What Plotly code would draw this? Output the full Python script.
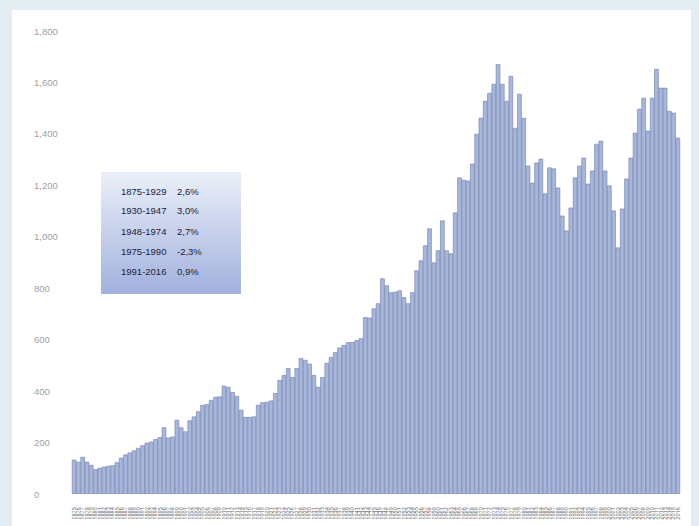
import plotly.graph_objects as go

# ---- data ----
years = list(range(1875, 2017))
values = [
    132, 124, 143, 124, 112, 95, 100, 105, 108, 110,
    122, 140, 152, 160, 168, 178, 188, 198, 202, 212,
    220, 258, 218, 222, 287, 258, 242, 285, 300, 320,
    345, 348, 364, 376, 378, 420, 415, 395, 380, 326,
    298, 298, 300, 345, 355, 357, 362, 391, 442, 461,
    488, 453, 488, 527, 520, 505, 461, 415, 453, 508,
    531, 550, 568, 578, 589, 589, 597, 604, 686, 684,
    720, 740, 837, 810, 783, 785, 790, 764, 740, 783,
    868, 907, 965, 1031, 899, 946, 1062, 946, 934, 1093,
    1229, 1220, 1217, 1283, 1399, 1461, 1527, 1558, 1593, 1670,
    1593, 1527, 1624, 1422, 1554, 1461, 1275, 1209, 1287, 1302,
    1167, 1268, 1264, 1190, 1081, 1023, 1112, 1229, 1275, 1306,
    1205, 1256, 1360, 1372, 1256, 1198, 1101, 957, 1108, 1225,
    1306, 1403, 1496, 1539, 1411, 1539, 1651, 1578, 1578, 1488,
    1481, 1384,
]
y_ticks = [0, 200, 400, 600, 800, 1000, 1200, 1400, 1600, 1800]
periods = ["1875-1929", "1930-1947", "1948-1974", "1975-1990", "1991-2016"]
rates = ["2,6%", "3,0%", "2,7%", "-2,3%", "0,9%"]

W, H = 699, 526
ML, MR, MT, MB = 68, 15, 31, 32
PW = W - ML - MR
PH = H - MT - MB


def px_x(p):
    return (p - ML) / PW


def px_y(p):
    return (H - MB - p) / PH


fig = go.Figure()
fig.add_trace(go.Bar(
    x=years, y=values,
    marker=dict(color="#a7b6da", line=dict(color="#7080aa", width=0.6)),
    hoverinfo="x+y",
))

shapes = []
# white panel
shapes.append(dict(type="rect", xref="paper", yref="paper",
                   x0=px_x(12), x1=px_x(691), y0=px_y(527), y1=px_y(10),
                   fillcolor="white", line=dict(width=0), layer="below"))

# gradient inset box (stacked strips, each reaching to the bottom -> no seams)
bx0, bx1, by0, by1 = 101, 241, 172, 294
n = 30
c_top = (234, 238, 248)
c_bot = (163, 178, 222)
for i in range(n):
    t = i / (n - 1)
    c = tuple(int(round(c_top[k] + (c_bot[k] - c_top[k]) * t)) for k in range(3))
    ya = by0 + (by1 - by0) * i / n
    shapes.append(dict(type="rect", xref="paper", yref="paper",
                       x0=px_x(bx0), x1=px_x(bx1), y0=px_y(by1), y1=px_y(ya),
                       fillcolor="rgb(%d,%d,%d)" % c, line=dict(width=0), layer="above"))

annotations = []
for v in y_ticks:
    annotations.append(dict(xref="paper", yref="y", x=px_x(32), y=v,
                            text=f"{v:,}", showarrow=False, xanchor="left", yanchor="middle",
                            font=dict(size=9.5, color="#a0a0a0", family="Liberation Sans, Arial")))
row_y = [191, 211, 231, 251, 271]
for p, r, yy in zip(periods, rates, row_y):
    annotations.append(dict(xref="paper", yref="paper", x=px_x(119), y=px_y(yy),
                            text=p, showarrow=False, xanchor="left", yanchor="middle",
                            font=dict(size=9.5, color="#22223a", family="Liberation Sans, Arial")))
    annotations.append(dict(xref="paper", yref="paper", x=px_x(175), y=px_y(yy),
                            text=r, showarrow=False, xanchor="left", yanchor="middle",
                            font=dict(size=9.5, color="#22223a", family="Liberation Sans, Arial")))

fig.update_layout(
    width=W, height=H,
    margin=dict(l=ML, r=MR, t=MT, b=MB, pad=0, autoexpand=False),
    paper_bgcolor="#e3eef2",
    plot_bgcolor="rgba(0,0,0,0)",
    bargap=0.1,
    showlegend=False,
    shapes=shapes,
    annotations=annotations,
    xaxis=dict(range=[1873.57, 2017.43], tickmode="array", tickvals=years,
               ticktext=[str(y) for y in years], tickangle=-90,
               tickfont=dict(size=5.5, color="#606060"), ticklabelstandoff=11,
               showgrid=False, zeroline=False, showline=False, ticks="",
               automargin=False),
    yaxis=dict(range=[0, 1800], showticklabels=False, showgrid=False,
               zeroline=False, showline=False, ticks="", automargin=False),
)

fig.write_html(
    "out.html",
    config={"displayModeBar": False},
    post_script="document.body.style.margin='0';document.body.style.background='#e3eef2';",
)
